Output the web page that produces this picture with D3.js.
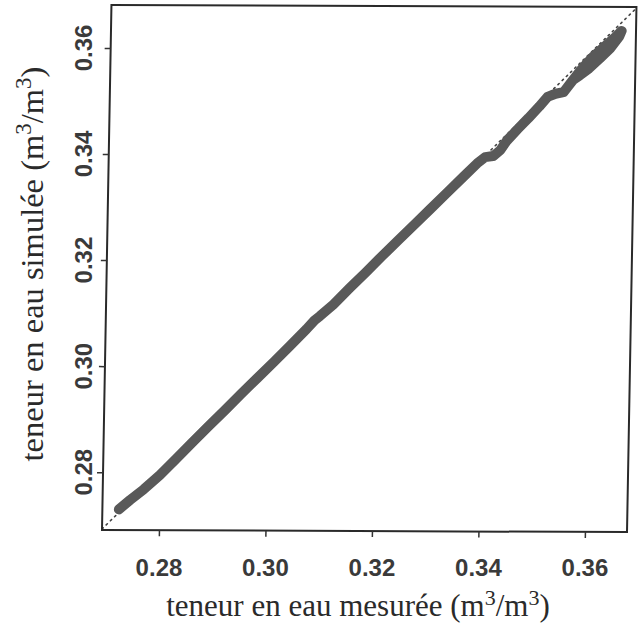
<!DOCTYPE html>
<html>
<head>
<meta charset="utf-8">
<script src="https://cdn.jsdelivr.net/npm/d3@7"></script>
<style>
  html, body { margin: 0; padding: 0; background: #fff; }
  svg { display: block; }
</style>
</head>
<body>
<div id="chart"></div>
<script>
// Measured vs simulated soil water content (m3/m3), in time order
const measured = [0.2724, 0.2745, 0.2770, 0.2800, 0.2830, 0.2860, 0.2890, 0.2920, 0.2950, 0.2980,
                  0.3010, 0.3040, 0.3070, 0.3085, 0.3095, 0.3120, 0.3150, 0.3180, 0.3210, 0.3240,
                  0.3270, 0.3300, 0.3330, 0.3360, 0.3385, 0.3400, 0.3415, 0.3428, 0.3440, 0.3460,
                  0.3480, 0.3500, 0.3515, 0.3530, 0.3545, 0.3560, 0.3580, 0.3600, 0.3620, 0.3640,
                  0.3652, 0.3648, 0.3632, 0.3612, 0.3592, 0.3575, 0.3562];
const simulated = [0.2730, 0.2748, 0.2768, 0.2795, 0.2826, 0.2857, 0.2888, 0.2918, 0.2949, 0.2979,
                   0.3009, 0.3040, 0.3071, 0.3088, 0.3096, 0.3118, 0.3149, 0.3179, 0.3210, 0.3240,
                   0.3270, 0.3300, 0.3330, 0.3360, 0.3385, 0.3397, 0.3399, 0.3410, 0.3428, 0.3450,
                   0.3471, 0.3493, 0.3511, 0.3517, 0.3520, 0.3540, 0.3566, 0.3588, 0.3606, 0.3624,
                   0.3636, 0.3626, 0.3604, 0.3584, 0.3565, 0.3552, 0.3543];

const xTicks = [0.28, 0.30, 0.32, 0.34, 0.36];
const yTicks = [0.28, 0.30, 0.32, 0.34, 0.36];
const xDomain = [0.2693, 0.3679];
const yDomain = [0.2691, 0.3681];

const W = 641, H = 627;
const padL = 102, padR = 627, padT = 5, padB = 530;
const kx = 0.018, ky = 0.004;   // slight shear of the printed frame

const svg = d3.select("#chart").append("svg")
  .attr("width", W).attr("height", H)
  .style("background", "#fff");

const x = d3.scaleLinear().domain(xDomain).range([padL, padR]);
const y = d3.scaleLinear().domain(yDomain).range([padB, padT]);

const ink = "#333";
const tickFont = "'Liberation Sans', Arial, sans-serif";
const titleFont = "'Liberation Serif', 'Times New Roman', serif";

const plot = svg.append("g")
  .attr("transform", `matrix(1,${ky},${-kx},1,${kx * padB},${-ky * padL})`);

plot.append("defs").append("clipPath").attr("id", "clip")
  .append("rect").attr("x", padL).attr("y", padT)
  .attr("width", padR - padL).attr("height", padB - padT);

// 1:1 reference line
const lo = Math.max(xDomain[0], yDomain[0]), hi = Math.min(xDomain[1], yDomain[1]);
plot.append("line")
  .attr("clip-path", "url(#clip)")
  .attr("x1", x(lo)).attr("y1", y(lo))
  .attr("x2", x(hi)).attr("y2", y(hi))
  .attr("stroke", "#444").attr("stroke-width", 1.6)
  .attr("stroke-dasharray", "1.6,4.2").attr("stroke-linecap", "round");

// simulated vs measured band
const pts = measured.map((m, i) => [m, simulated[i]]);
plot.append("path")
  .datum(pts)
  .attr("clip-path", "url(#clip)")
  .attr("fill", "none")
  .attr("stroke", "#595959")
  .attr("stroke-width", 10)
  .attr("stroke-linejoin", "round")
  .attr("stroke-linecap", "round")
  .attr("d", d3.line().x(d => x(d[0])).y(d => y(d[1])));

// frame
plot.append("rect")
  .attr("x", padL).attr("y", padT)
  .attr("width", padR - padL).attr("height", padB - padT)
  .attr("fill", "none").attr("stroke", "#2a2a2a").attr("stroke-width", 2);

// x axis ticks
const xAxis = plot.append("g")
  .attr("transform", `translate(0,${padB})`)
  .call(d3.axisBottom(x).tickValues(xTicks).tickSize(6).tickFormat(""));
xAxis.select(".domain").remove();
xAxis.selectAll("line").attr("stroke", ink).attr("stroke-width", 1.5);

// y axis ticks
const yAxis = plot.append("g")
  .attr("transform", `translate(${padL},0)`)
  .call(d3.axisLeft(y).tickValues(yTicks).tickSize(6).tickFormat(""));
yAxis.select(".domain").remove();
yAxis.selectAll("line").attr("stroke", ink).attr("stroke-width", 1.5);

// tick labels
const fmt = d3.format(".2f");
svg.append("g").selectAll("text").data(xTicks).join("text")
  .attr("x", d => x(d)).attr("y", 576)
  .attr("text-anchor", "middle")
  .attr("font-family", tickFont).attr("font-size", 24).attr("font-weight", "bold")
  .attr("fill", "#3a3a3a")
  .text(d => fmt(d));

svg.append("g").selectAll("text").data(yTicks).join("text")
  .attr("transform", d => `translate(91.5,${y(d)}) rotate(-90)`)
  .attr("text-anchor", "middle")
  .attr("font-family", tickFont).attr("font-size", 24).attr("font-weight", "bold")
  .attr("fill", "#3a3a3a")
  .text(d => fmt(d));

// axis titles with superscripts
function title(sel, label, size) {
  const sup = Math.round(size * 0.7), lift = Math.round(size * 0.37);
  sel.attr("text-anchor", "middle")
    .attr("font-family", titleFont).attr("font-size", size)
    .attr("fill", "#2a2a2a");
  sel.append("tspan").text(label + " (m");
  sel.append("tspan").attr("dy", -lift).attr("font-size", sup).text("3");
  sel.append("tspan").attr("dy", lift).text("/m");
  sel.append("tspan").attr("dy", -lift).attr("font-size", sup).text("3");
  sel.append("tspan").attr("dy", lift).text(")");
}

svg.append("text").attr("x", 358).attr("y", 616)
  .call(title, "teneur en eau mesurée", 31);

svg.append("text").attr("transform", "translate(43,264) rotate(-90)")
  .call(title, "teneur en eau simulée", 32.5);
</script>
</body>
</html>
